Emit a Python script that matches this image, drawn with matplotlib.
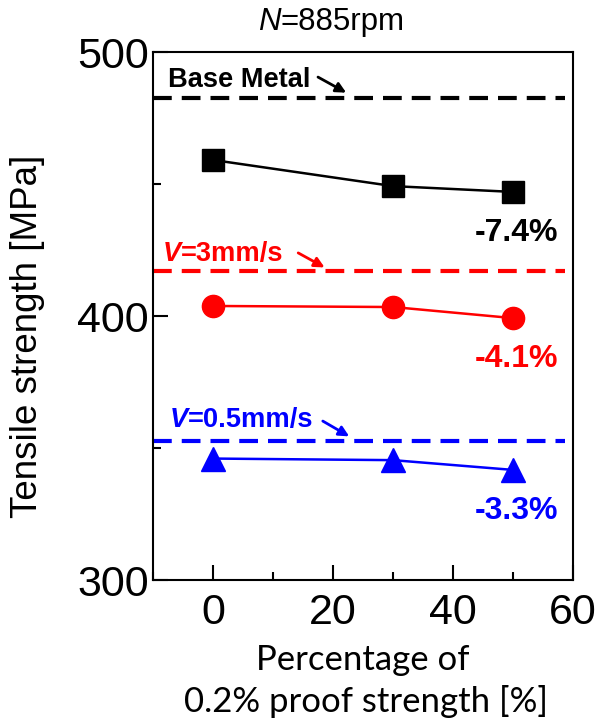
import numpy as np
import matplotlib.pyplot as plt
from matplotlib.ticker import MultipleLocator

plt.rcParams['font.family'] = ['Liberation Sans', 'DejaVu Sans']

pct = [0, 30, 50]
v_high = [459.1, 449.2, 447.0]    # squares (black)
v_3 = [403.8, 403.4, 399.2]       # circles (red)
v_05 = [346.0, 345.4, 341.7]      # triangles (blue)
base_metal = 482.6
ref_3 = 417.0
ref_05 = 352.7
drops = ["-7.4%", "-4.1%", "-3.3%"]

W, H = 599, 720
fig = plt.figure(figsize=(W / 100, H / 100), dpi=100)
ax = fig.add_axes([153 / W, 1 - 580 / H, 420 / W, 528 / H])


def ftext(x, y, s, **kw):
    # place text by pixel position (from top-left)
    return fig.text(x / W, 1 - y / H, s, **kw)


ax.plot(pct, v_high, color='black', lw=1.8, marker='s', ms=16)
ax.plot(pct, v_3, color='red', lw=1.8, marker='o', ms=16)
ax.plot(pct, v_05, color='blue', lw=1.8, marker='^', ms=17)

for y, c in [(base_metal, 'black'), (ref_3, 'red'), (ref_05, 'blue')]:
    ax.axhline(y, xmin=0, xmax=0.98, color=c, lw=3, dashes=(4.5, 2.4))

ax.set_xlim(-10, 60)
ax.set_ylim(300, 500)
ax.xaxis.set_major_locator(MultipleLocator(20))
ax.xaxis.set_minor_locator(MultipleLocator(10))
ax.yaxis.set_major_locator(MultipleLocator(100))
ax.yaxis.set_minor_locator(MultipleLocator(50))
ax.tick_params(which='both', direction='in', width=1.5)
ax.tick_params(which='major', length=11, labelsize=31)
ax.tick_params(axis='y', which='major', pad=3)
ax.tick_params(axis='x', which='major', pad=9)
ax.tick_params(which='minor', length=6)
for s in ax.spines.values():
    s.set_linewidth(1.5)

# axis labels
ftext(28, 336, 'Tensile strength [MPa]', fontsize=26.5, rotation=90,
      ha='center', va='center')
ftext(363, 670, 'Percentage of', fontsize=25, family=['Lato', 'DejaVu Sans'],
      ha='center', va='baseline')
ftext(366, 712, '0.2% proof strength [%]', fontsize=25, family=['Lato', 'DejaVu Sans'],
      ha='center', va='baseline')

# title
ftext(281, 30, 'N', fontsize=22.5, fontstyle='italic', ha='right', va='baseline')
ftext(280, 30, '=885rpm', fontsize=22.5, ha='left', va='baseline')

# reference line labels
ftext(168, 86.7, 'Base Metal', fontsize=19.6, fontweight='bold', va='baseline')
ftext(163, 260.7, 'V', fontsize=19.6, fontweight='bold', fontstyle='italic',
      color='red', va='baseline')
ftext(181, 260.7, '=3mm/s', fontsize=19.6, fontweight='bold', color='red', va='baseline')
ftext(170, 426.7, 'V', fontsize=19.6, fontweight='bold', fontstyle='italic',
      color='blue', va='baseline')
ftext(188, 426.7, '=0.5mm/s', fontsize=19.6, fontweight='bold', color='blue', va='baseline')

arrows = [((17.5, 490.5), (22.2, 484.6), 'black'),
          ((14.2, 423.9), (18.6, 418.4), 'red'),
          ((18.3, 360.2), (22.7, 354.4), 'blue')]
for start, end, c in arrows:
    ax.annotate('', xy=end, xytext=start,
                arrowprops=dict(arrowstyle='-|>', color=c, lw=2, mutation_scale=15,
                                shrinkA=0, shrinkB=0))

for y, txt, c in [(240.7, drops[0], 'black'), (366.7, drops[1], 'red'),
                  (519.3, drops[2], 'blue')]:
    ftext(516, y, txt, fontsize=23, fontweight='bold', color=c, ha='center', va='baseline')

fig.savefig('out.png', dpi=100)
